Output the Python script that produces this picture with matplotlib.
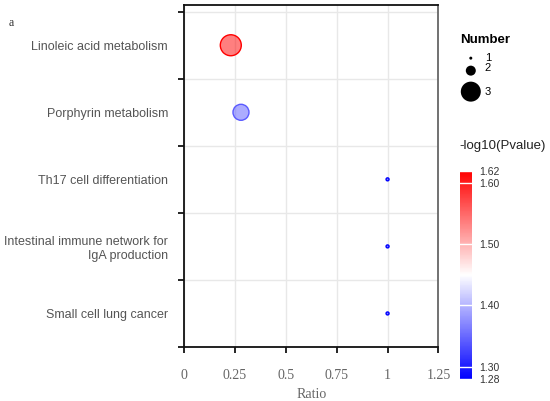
import numpy as np
import matplotlib
matplotlib.use("Agg")
import matplotlib.pyplot as plt
from matplotlib.colors import LinearSegmentedColormap, Normalize, to_rgba

# data
pathways = ["Linoleic acid metabolism", "Porphyrin metabolism",
            "Th17 cell differentiation",
            "Intestinal immune network for\nIgA production",
            "Small cell lung cancer"]
ratio = [0.23, 0.28, 1.0, 1.0, 1.0]
number = [3, 2, 1, 1, 1]
neglogp = [1.62, 1.34, 1.28, 1.28, 1.28]

x_ticks = [0, 0.25, 0.5, 0.75, 1, 1.25]
x_ticklabels = ["0", "0.25", "0.5", "0.75", "1", "1.25"]
cbar_ticks = [1.28, 1.30, 1.40, 1.50, 1.60, 1.62]
size_levels = [1, 2, 3]

# marker diameters in pixels (plot / legend key differ in the original)
plot_diam = {1: 3, 2: 16, 3: 21}
key_diam = {1: 3, 2: 10, 3: 20}

SANS = "Liberation Sans"
SERIF = "Liberation Serif"
DPI = 100


def px_to_s(d):
    return (d * 72.0 / DPI) ** 2


fig = plt.figure(figsize=(5.5, 4.01), dpi=DPI)
ax = fig.add_axes([0.3345, 0.1347, 0.4627, 0.8528])

cmap = LinearSegmentedColormap.from_list("bwr_pure", ["#0000ff", "#ffffff", "#ff0000"])
norm = Normalize(vmin=min(cbar_ticks), vmax=max(cbar_ticks))

n = len(pathways)
ypos = np.arange(n)[::-1]  # first pathway on top

face = [to_rgba(cmap(norm(v)), 0.5) for v in neglogp]
edge = [cmap(norm(v)) for v in neglogp]
sizes = [px_to_s(plot_diam[k]) for k in number]
ax.scatter(ratio, ypos, s=sizes, c=face, edgecolors=edge, linewidths=1.0, zorder=3)

ax.set_xlim(0, 1.25)
ax.set_ylim(-0.5, n - 0.4)

ax.set_xticks(x_ticks)
ax.set_xticklabels(x_ticklabels, family=SERIF, fontsize=10, color="#666666")
ax.set_yticks(ypos)
ax.set_yticklabels(pathways, family=SANS, fontsize=9, color="#555555")
ax.set_yticks(np.arange(n + 1) - 0.5, minor=True)

ax.tick_params(axis="y", which="major", length=0, pad=11.5)
ax.tick_params(axis="y", which="minor", length=4.5, width=1.2, color="black", direction="out")
ax.tick_params(axis="x", which="major", length=4, width=1.2, color="black", direction="out", pad=12)

ax.grid(True, axis="x", which="major", color="#e8e8e8", linewidth=1.0, zorder=0)
ax.grid(True, axis="y", which="minor", color="#e8e8e8", linewidth=1.0, zorder=0)
ax.grid(False, axis="y", which="major")
ax.set_axisbelow(True)

for side in ["left", "bottom", "top"]:
    ax.spines[side].set_linewidth(1.3)
    ax.spines[side].set_color("#111111")
ax.spines["right"].set_linewidth(1.3)
ax.spines["right"].set_color("#666666")

ax.set_xlabel("Ratio", family=SERIF, fontsize=10, color="#666666", labelpad=4)

fig.text(0.016, 0.943, "a", family=SERIF, fontsize=8.5, color="#333333", va="center")

# size key
fig.text(0.836, 0.9, "Number", family=SANS, fontsize=9.5, weight="bold", va="center")
kax = fig.add_axes([0.836, 0.70, 0.09, 0.16])
kax.set_axis_off()
gap = 6
centers = []
y = 0.0
for i, k in enumerate(size_levels):
    if i > 0:
        y += key_diam[size_levels[i - 1]] / 2 + gap + key_diam[k] / 2
    centers.append(y)
key_h = 0.16 * 4.01 * DPI
kax.set_ylim(-2, key_h - 2)
kax.invert_yaxis()
kax.set_xlim(0, 0.09 * 5.5 * DPI)
kax.scatter([11] * len(size_levels), centers,
            s=[px_to_s(key_diam[k]) for k in size_levels], c="black", linewidths=0)
for k, yc in zip(size_levels, centers):
    kax.text(25, yc - (3 if k == 2 else 0), str(k), family=SANS, fontsize=8, va="center")

# colour bar
fig.text(0.836, 0.636, "-log10(Pvalue)", family=SANS, fontsize=9.5, va="center", color="#222222")
cax = fig.add_axes([0.8364, 0.055, 0.022, 0.519])
sm = plt.cm.ScalarMappable(norm=norm, cmap=cmap)
cb = fig.colorbar(sm, cax=cax, ticks=cbar_ticks)
cb.outline.set_visible(False)
cb.ax.set_yticklabels(["%.2f" % t for t in cbar_ticks], family=SANS, fontsize=7.5, color="#333333")
cb.ax.tick_params(length=12, width=1, color="white", direction="in", pad=5)

fig.savefig("out.png", dpi=DPI)
